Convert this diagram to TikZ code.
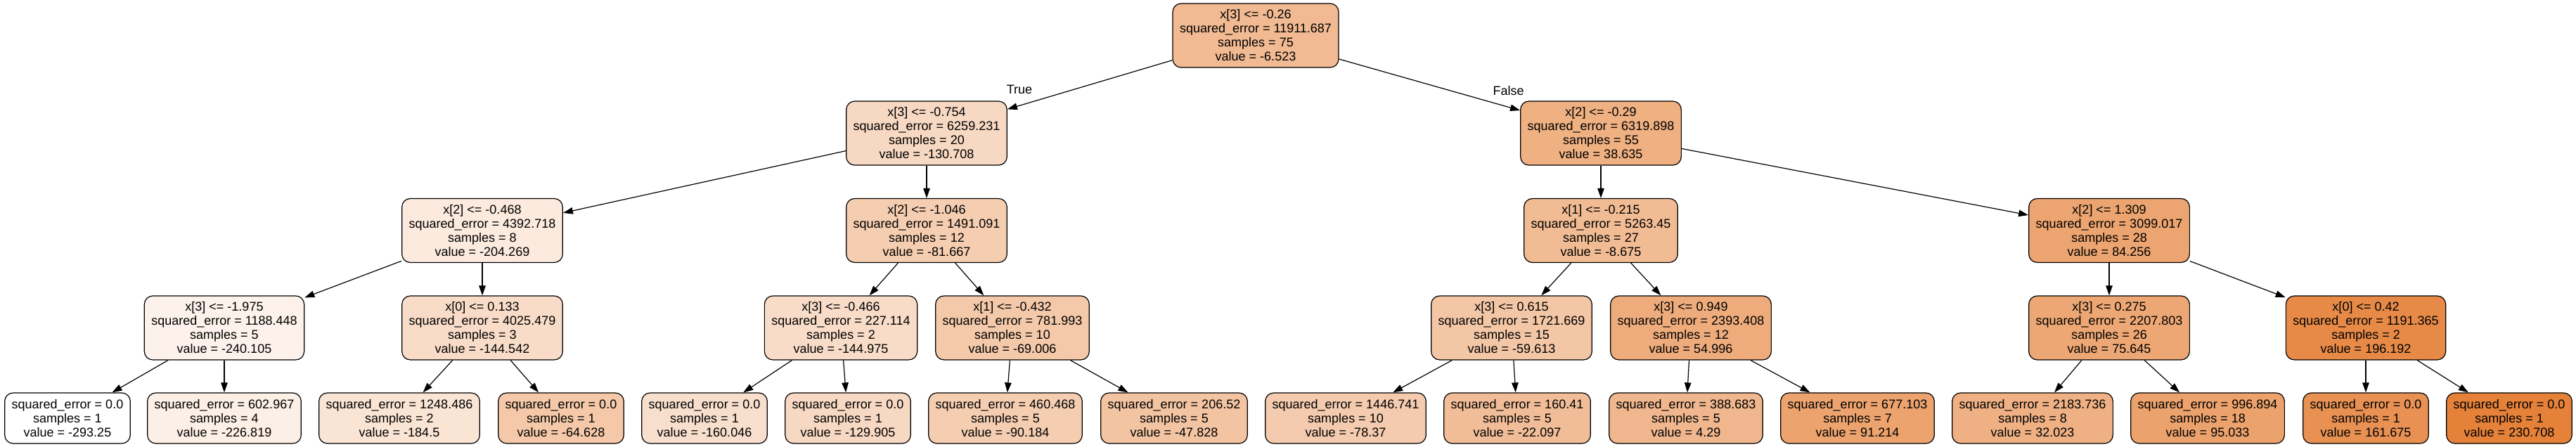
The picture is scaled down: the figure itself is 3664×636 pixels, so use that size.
\documentclass[tikz,border=0pt]{standalone}
\usepackage{fontspec}
\setmainfont{Liberation Sans}
\usetikzlibrary{arrows.meta}

\definecolor{treeorange}{RGB}{229,129,57}
\newcommand{\splitfont}{\fontsize{9pt}{10pt}\selectfont}
\tikzstyle{split box}=[draw,rounded corners=6pt,line width=0.6pt,
    align=center,inner xsep=5pt,inner ysep=0pt,minimum height=45.5pt,
    font=\splitfont]
\tikzstyle{leaf box}=[split box,minimum height=36pt]
\tikzstyle{branch}=[line width=0.6pt,->,>={Triangle[length=7pt,width=4.75pt]}]
\tikzstyle{branch label}=[font=\splitfont,inner sep=0pt]
\newcommand{\splitnode}[7]{
    \node[split box,fill=treeorange!#3] at (#1) (#2)
        {#4\\squared\_error = #5\\samples = #6\\value = #7};
}
\newcommand{\leafnode}[6]{
    \node[leaf box,fill=treeorange!#3] at (#1) (#2)
        {squared\_error = #4\\samples = #5\\value = #6};
}
\newcommand{\branch}[2]{\draw[branch] (#1) -- (#2);}

\begin{document}
\begin{tikzpicture}[x=0.5pt,y=-0.5pt]
    \useasboundingbox (0,0) rectangle (3664,636);
    \splitnode{1786,50.5}{O}{55}{x[3] <= -0.26}{11911.687}{75}{-6.523}
    %
    \splitnode{1318,189.5}{L}{31}{x[3] <= -0.754}{6259.231}{20}{-130.708}
    \splitnode{2277,189.5}{R}{63}{x[2] <= -0.29}{6319.898}{55}{38.635}
    %
    \splitnode{686,328}{LL}{17}{x[2] <= -0.468}{4392.718}{8}{-204.269}
    \splitnode{1318,328}{LR}{40}{x[2] <= -1.046}{1491.091}{12}{-81.667}
    \splitnode{2277,328}{RL}{54}{x[1] <= -0.215}{5263.45}{27}{-8.675}
    \splitnode{3000,328}{RR}{72}{x[2] <= 1.309}{3099.017}{28}{84.256}
    %
    \splitnode{319,466.5}{LLL}{10}{x[3] <= -1.975}{1188.448}{5}{-240.105}
    \splitnode{686,466.5}{LLR}{28}{x[0] <= 0.133}{4025.479}{3}{-144.542}
    \splitnode{1196,466.5}{LRL}{28}{x[3] <= -0.466}{227.114}{2}{-144.975}
    \splitnode{1440,466.5}{LRR}{43}{x[1] <= -0.432}{781.993}{10}{-69.006}
    \splitnode{2150,466.5}{RLL}{45}{x[3] <= 0.615}{1721.669}{15}{-59.613}
    \splitnode{2405,466.5}{RLR}{66}{x[3] <= 0.949}{2393.408}{12}{54.996}
    \splitnode{3000,466.5}{RRL}{70}{x[3] <= 0.275}{2207.803}{26}{75.645}
    \splitnode{3365,466.5}{RRR}{93}{x[0] <= 0.42}{1191.365}{2}{196.192}
    %
    \leafnode{96,595}{LLLL}{0}{0.0}{1}{-293.25}
    \leafnode{319,595}{LLLR}{13}{602.967}{4}{-226.819}
    \leafnode{568,595}{LLRL}{21}{1248.486}{2}{-184.5}
    \leafnode{798,595}{LLRR}{44}{0.0}{1}{-64.628}
    \leafnode{1002,595}{LRLL}{25}{0.0}{1}{-160.046}
    \leafnode{1206,595}{LRLR}{31}{0.0}{1}{-129.905}
    \leafnode{1430,595}{LRRL}{39}{460.468}{5}{-90.184}
    \leafnode{1670,595}{LRRR}{47}{206.52}{5}{-47.828}
    \leafnode{1914,595}{RLLL}{41}{1446.741}{10}{-78.37}
    \leafnode{2158,595}{RLLR}{52}{160.41}{5}{-22.097}
    \leafnode{2398,595}{RLRL}{57}{388.683}{5}{4.29}
    \leafnode{2642,595}{RLRR}{73}{677.103}{7}{91.214}
    \leafnode{2891,595}{RRLL}{62}{2183.736}{8}{32.023}
    \leafnode{3140,595}{RRLR}{74}{996.894}{18}{95.033}
    \leafnode{3365,595}{RRRL}{87}{0.0}{1}{161.675}
    \leafnode{3569,595}{RRRR}{100}{0.0}{1}{230.708}
    %
    \branch{O}{L} \branch{O}{R}
    \branch{L}{LL} \branch{L}{LR}
    \branch{R}{RL} \branch{R}{RR}
    \branch{LL}{LLL} \branch{LL}{LLR}
    \branch{LR}{LRL} \branch{LR}{LRR}
    \branch{RL}{RLL} \branch{RL}{RLR}
    \branch{RR}{RRL} \branch{RR}{RRR}
    \branch{LLL}{LLLL} \branch{LLL}{LLLR}
    \branch{LLR}{LLRL} \branch{LLR}{LLRR}
    \branch{LRL}{LRLL} \branch{LRL}{LRLR}
    \branch{LRR}{LRRL} \branch{LRR}{LRRR}
    \branch{RLL}{RLLL} \branch{RLL}{RLLR}
    \branch{RLR}{RLRL} \branch{RLR}{RLRR}
    \branch{RRL}{RRLL} \branch{RRL}{RRLR}
    \branch{RRR}{RRRL} \branch{RRR}{RRRR}
    %
    \node[branch label] (true) at (1450,127) {True};
    \node[branch label] (false) at (2145.5,129) {False};
\end{tikzpicture}
\end{document}
